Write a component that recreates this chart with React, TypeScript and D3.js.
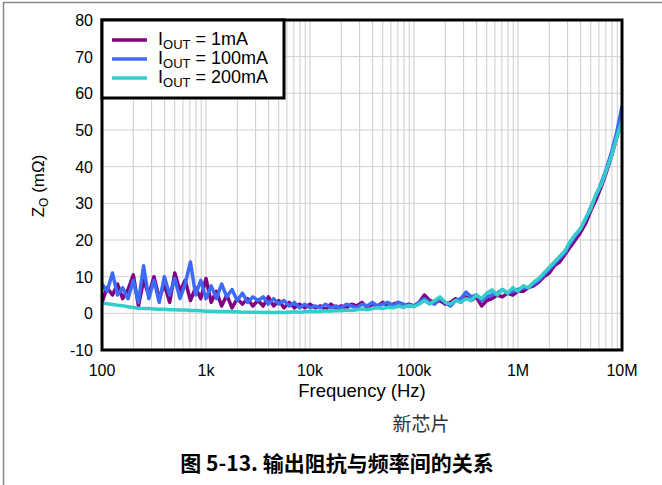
import React from "react";
import * as d3 from "d3";

// Frequency points (Hz), 20 per decade from 100 Hz to 10 MHz
const freqs: number[] = [
  100, 112, 126, 141, 158, 178, 200, 224, 251, 282, 316, 355, 398, 447, 501, 562, 631, 708, 794, 891,
  1000, 1122, 1259, 1413, 1585, 1778, 1995, 2239, 2512, 2818, 3162, 3548, 3981, 4467, 5012, 5623, 6310, 7079, 7943, 8913,
  10000, 11220, 12589, 14125, 15849, 17783, 19953, 22387, 25119, 28184, 31623, 35481, 39811, 44668, 50119, 56234, 63096, 70795, 79433, 89125,
  100000, 112202, 125893, 141254, 158489, 177828, 199526, 223872, 251189, 281838, 316228, 354813, 398107, 446684, 501187, 562341, 630957, 707946, 794328, 891251,
  1000000, 1122018, 1258925, 1412538, 1584893, 1778279, 1995262, 2238721, 2511886, 2818383, 3162278, 3548134, 3981072, 4466836, 5011872, 5623413, 6309573, 7079458, 7943282, 8912509,
  10000000,
];

// Output impedance (mΩ) at IOUT = 1mA
const z1mA: number[] = [
  3, 7, 5, 8, 4, 6.5, 10.5, 2, 9, 5, 10, 4, 8, 3, 11, 6, 9, 3.5, 7, 4,
  9.5, 3, 6, 2, 5, 1.5, 4, 2.5, 4, 2, 3.5, 2, 4.5, 2, 3.5, 1.5, 3, 1.5, 2.5, 1.5,
  2.5, 1.5, 2, 1, 2.5, 1.5, 2, 1.5, 2.5, 2, 3, 1.5, 2.5, 2, 3, 2, 2.5, 3, 2, 2.5,
  2, 3, 5, 3.5, 3, 3.5, 2.5, 3, 4, 3, 4.5, 3.5, 4.5, 2, 3.5, 4, 5, 4.5, 5.5, 5,
  6, 6, 7, 7.5, 8.5, 10, 11, 13, 14, 16, 18, 20, 22, 24.5, 28, 31, 34.5, 38.5, 43, 48,
  53,
];

// Output impedance (mΩ) at IOUT = 100mA
const z100mA: number[] = [
  8, 6, 11, 5, 7, 4, 9, 3, 13, 4, 9, 3, 10, 5, 9.5, 4, 8, 14, 5, 9,
  4, 7.5, 4, 8, 4.5, 6.5, 3.5, 5.5, 3, 4.5, 3.5, 4.5, 2.5, 4, 2.5, 3.5, 2, 3, 1.5, 2.5,
  1.5, 2, 1.5, 2.5, 1.5, 2, 1.5, 2.5, 2, 1.5, 2.5, 2, 3, 2, 2.5, 3, 2, 3, 2.5, 2,
  2, 3, 4, 3, 2.5, 4, 3, 2, 3.5, 4, 5.8, 4.5, 5, 3.5, 4.5, 5, 5.5, 6.5, 5.5, 6,
  6.5, 7, 7, 8, 9, 10.5, 12, 13.5, 15, 16.5, 19, 21, 23, 25.5, 29, 32, 35.5, 39.5, 44, 49.5,
  56.5,
];

// Output impedance (mΩ) at IOUT = 200mA
const z200mA: number[] = [
  2.8, 2.6, 2.4, 2.2, 2.1, 1.8, 1.6, 1.4, 1.3, 1.3, 1.2, 1.1, 1.1, 1.0, 1.0, 0.9, 0.9, 0.8, 0.8, 0.7,
  0.6, 0.6, 0.5, 0.5, 0.5, 0.4, 0.4, 0.3, 0.3, 0.3, 0.3, 0.2, 0.3, 0.2, 0.3, 0.2, 0.3, 0.4, 0.3, 0.4,
  0.5, 0.6, 0.5, 0.7, 0.6, 0.8, 0.7, 0.9, 0.8, 1.0, 1.2, 1.0, 1.3, 1.5, 1.3, 1.7, 1.5, 2, 1.6, 2.2,
  1.8, 2.5, 3.5, 2.5, 3.5, 4.5, 3, 2.5, 3.5, 3, 4, 3.5, 5, 4, 5.5, 6.4, 5, 6.5, 5.5, 7,
  6, 7.5, 7, 8.5, 9.5, 11, 12.5, 14, 15.5, 17, 19.5, 21.5, 23, 26, 28.5, 32.5, 35, 39, 43, 48,
  52.5,
];

const seriesNames: string[] = ["= 1mA", "= 100mA", "= 200mA"];
const seriesColors: string[] = ["#800080", "#3D6BF7", "#35CDCB"];
const seriesValues: number[][] = [z1mA, z100mA, z200mA];

const xTickValues: number[] = [100, 1000, 10000, 100000, 1000000, 10000000];
const xTickLabels: string[] = ["100", "1k", "10k", "100k", "1M", "10M"];
const yTickValues: number[] = [-10, 0, 10, 20, 30, 40, 50, 60, 70, 80];

const W = 662;
const H = 485;
const FONT = "'Liberation Sans', Arial, sans-serif";
const CJK = "'Noto Sans CJK SC', sans-serif";

export default function App() {
  const left = 102;
  const right = 622;
  const top = 20;
  const bottom = 350;

  const x = d3.scaleLog().domain([100, 1e7]).range([left, right]);
  const y = d3.scaleLinear().domain([-10, 80]).range([bottom, top]);

  // minor + major grid lines for a log axis
  const vGrid: number[] = [];
  for (let d = 100; d < 1e7; d *= 10) {
    for (let m = 1; m <= 9; m++) vGrid.push(d * m);
  }

  const line = d3
    .line<[number, number]>()
    .x((d) => x(d[0]))
    .y((d) => y(d[1]))
    .curve(d3.curveLinear);

  const legendY = [40, 59, 78];

  return (
    <svg
      width={W}
      height={H}
      style={{ position: "absolute", left: 0, top: 0, background: "#fff" }}
    >
      <rect x={0} y={0} width={W} height={H} fill="#fff" />
      {/* page frame */}
      <line x1={3.5} y1={2} x2={3.5} y2={H} stroke="#888" strokeWidth={1.5} />
      <line x1={3} y1={2.5} x2={W} y2={2.5} stroke="#888" strokeWidth={1.5} />

      <defs>
        <clipPath id="plot">
          <rect x={left} y={top} width={right - left} height={bottom - top} />
        </clipPath>
      </defs>

      {/* grid */}
      {vGrid.map((f, i) => (
        <line key={"v" + i} x1={x(f)} x2={x(f)} y1={top} y2={bottom} stroke="#cccccc" strokeWidth={1} />
      ))}
      {yTickValues.map((v) => (
        <line key={"h" + v} x1={left} x2={right} y1={y(v)} y2={y(v)} stroke="#d0d0d0" strokeWidth={1} />
      ))}

      {/* series */}
      <g clipPath="url(#plot)">
        {seriesValues.map((vals, si) => (
          <path
            key={si}
            d={line(freqs.map((f, i) => [f, vals[i]] as [number, number])) || ""}
            fill="none"
            stroke={seriesColors[si]}
            strokeWidth={3.5}
            strokeLinejoin="round"
          />
        ))}
      </g>

      {/* plot frame */}
      <rect x={left} y={top} width={right - left} height={bottom - top} fill="none" stroke="#000" strokeWidth={3} />

      {/* y tick labels */}
      {yTickValues.map((v) => (
        <text key={"yl" + v} x={93} y={y(v) + 6} textAnchor="end" fontFamily={FONT} fontSize={16} fill="#000">
          {v}
        </text>
      ))}

      {/* x tick labels */}
      {xTickValues.map((f, i) => (
        <text key={"xl" + f} x={x(f)} y={376} textAnchor="middle" fontFamily={FONT} fontSize={16} fill="#000">
          {xTickLabels[i]}
        </text>
      ))}

      {/* axis titles */}
      <text x={(left + right) / 2} y={397} textAnchor="middle" fontFamily={FONT} fontSize={18.5} fill="#000">
        Frequency (Hz)
      </text>
      <text transform="translate(44,186) rotate(-90)" textAnchor="middle" fontFamily={FONT} fontSize={17} fill="#000">
        Z<tspan fontSize={12} dy={4}>O</tspan>
        <tspan dy={-4}> (mΩ)</tspan>
      </text>

      {/* legend */}
      <rect x={left} y={top} width={182} height={78} fill="#fff" stroke="#000" strokeWidth={3} />
      {seriesNames.map((name, i) => (
        <g key={"lg" + i}>
          <line x1={112} x2={147} y1={legendY[i]} y2={legendY[i]} stroke={seriesColors[i]} strokeWidth={3.5} />
          <text x={158} y={legendY[i] + 5} fontFamily={FONT} fontSize={18} fill="#000">
            I<tspan fontSize={13} dy={4}>OUT</tspan>
            <tspan dy={-4}> {name}</tspan>
          </text>
        </g>
      ))}

      {/* captions */}
      <text x={421} y={431} textAnchor="middle" fontFamily={CJK} fontSize={19} fill="#333">
        新芯片
      </text>
      <text x={337} y={471} textAnchor="middle" fontFamily={CJK} fontSize={21} fontWeight="bold" fill="#000">
        图 5-13. 输出阻抗与频率间的关系
      </text>
    </svg>
  );
}
